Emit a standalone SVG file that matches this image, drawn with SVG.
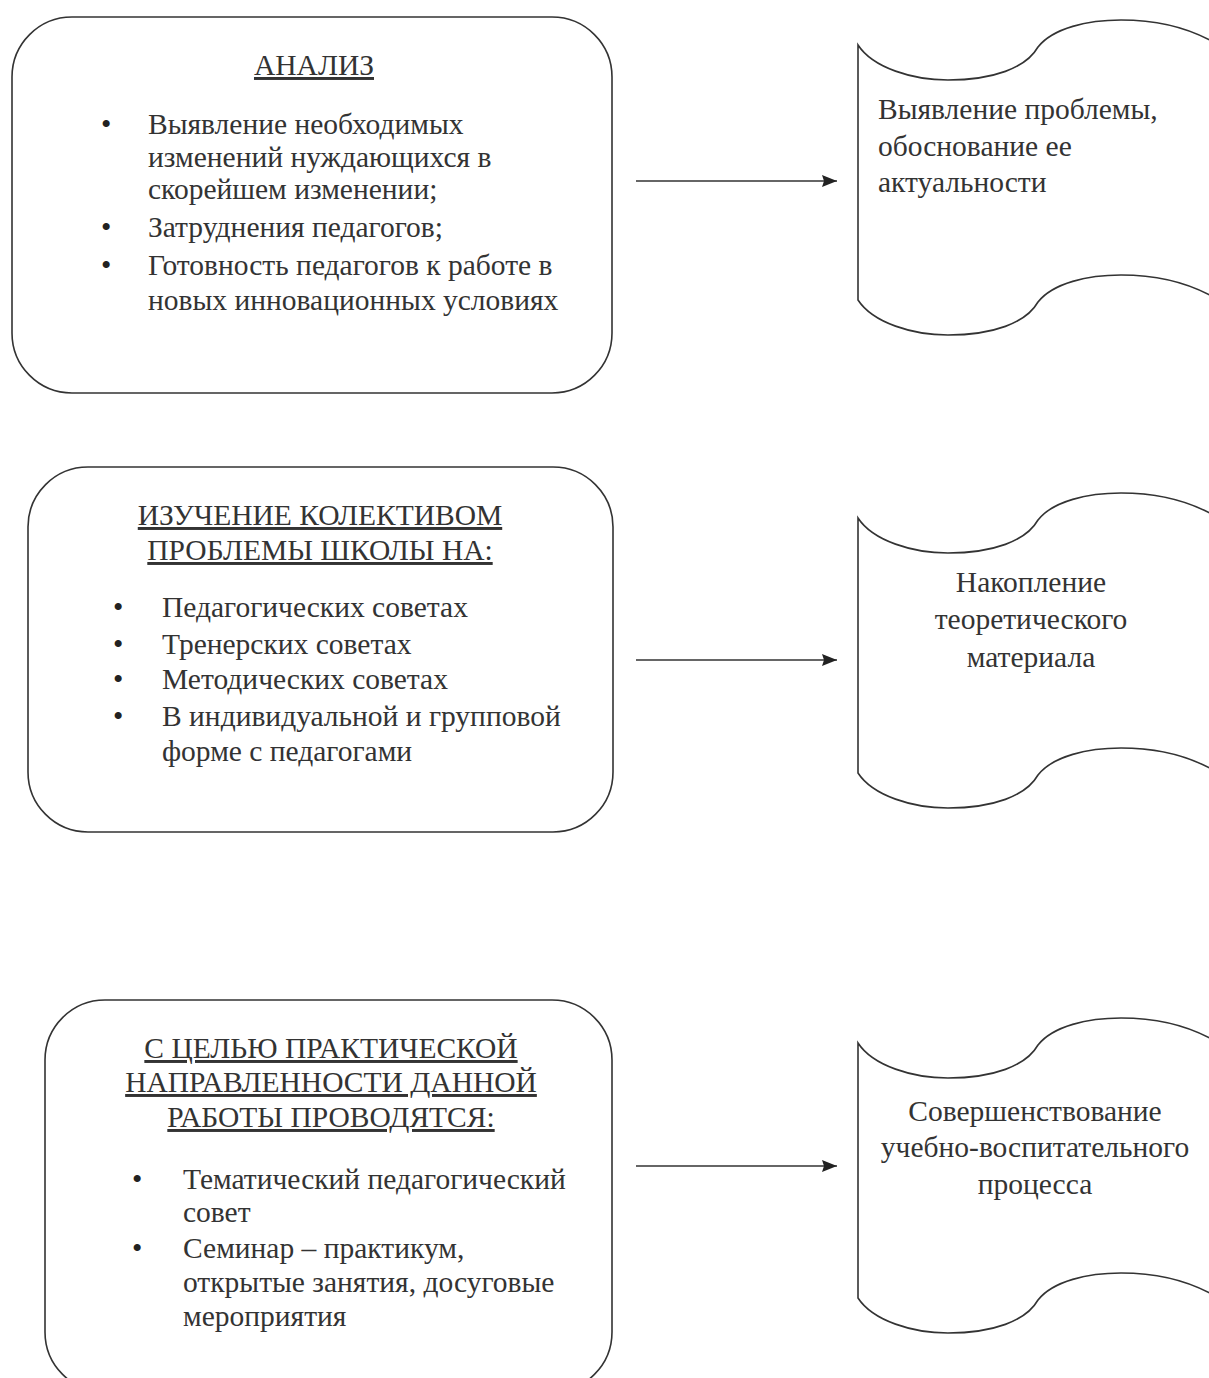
<svg xmlns="http://www.w3.org/2000/svg" width="1209" height="1378" viewBox="0 0 1209 1378">
<defs>
<style>
.box{fill:#fff;stroke:#333;stroke-width:1.6}
.wave{fill:#fff;stroke:#333;stroke-width:1.6}
.t{font-family:"Liberation Serif","Times New Roman",serif;font-size:29.5px;fill:#333}
.h{text-anchor:middle;text-decoration:underline}
.c{text-anchor:middle}
.b{fill:#222}
.conn{stroke:#333;stroke-width:1.6;fill:none}
</style>
<marker id="arr" viewBox="0 0 15 12" refX="15" refY="6" markerWidth="15" markerHeight="12" markerUnits="userSpaceOnUse" orient="auto">
<path d="M0,0 L15,6 L0,12 L2,6 z" fill="#222"/>
</marker>
<path id="wv" d="M0,25 C15,48 55,60 90,60 C135,60 168,48 180,27 C195,8 230,0 263,0 C300,0 335,8 365,28 L365,283 C335,263 300,255 263,255 C230,255 195,263 180,282 C168,303 135,315 90,315 C55,315 15,303 0,280 Z"/>
</defs>
<rect width="1209" height="1378" fill="#fff"/>

<g id="node-analysis">
<rect class="box" x="12" y="17" width="600" height="376" rx="60" ry="60"/>
<text class="t h" x="314" y="75">АНАЛИЗ</text>
<g class="t">
<text class="b" x="101" y="134">•</text>
<text x="148" y="134">Выявление необходимых</text>
<text x="148" y="167">изменений нуждающихся в</text>
<text x="148" y="199">скорейшем изменении;</text>
<text class="b" x="101" y="237">•</text>
<text x="148" y="237">Затруднения педагогов;</text>
<text class="b" x="101" y="275">•</text>
<text x="148" y="275">Готовность педагогов к работе в</text>
<text x="148" y="310">новых инновационных условиях</text>
</g>
</g>

<g id="node-study">
<rect class="box" x="28" y="467" width="585" height="365" rx="60" ry="60"/>
<text class="t h" x="320" y="525">ИЗУЧЕНИЕ КОЛЕКТИВОМ</text>
<text class="t h" x="320" y="560">ПРОБЛЕМЫ ШКОЛЫ НА:</text>
<g class="t">
<text class="b" x="113" y="617">•</text>
<text x="162" y="617">Педагогических советах</text>
<text class="b" x="113" y="654">•</text>
<text x="162" y="654">Тренерских советах</text>
<text class="b" x="113" y="689">•</text>
<text x="162" y="689">Методических советах</text>
<text class="b" x="113" y="726">•</text>
<text x="162" y="726">В индивидуальной и групповой</text>
<text x="162" y="761">форме с педагогами</text>
</g>
</g>

<g id="node-practice">
<rect class="box" x="45" y="1000" width="567" height="392" rx="60" ry="60"/>
<text class="t h" x="331" y="1058">С ЦЕЛЬЮ ПРАКТИЧЕСКОЙ</text>
<text class="t h" x="331" y="1092">НАПРАВЛЕННОСТИ ДАННОЙ</text>
<text class="t h" x="331" y="1127">РАБОТЫ ПРОВОДЯТСЯ:</text>
<g class="t">
<text class="b" x="132" y="1189">•</text>
<text x="183" y="1189">Тематический педагогический</text>
<text x="183" y="1222">совет</text>
<text class="b" x="132" y="1258">•</text>
<text x="183" y="1258">Семинар – практикум,</text>
<text x="183" y="1292">открытые занятия, досуговые</text>
<text x="183" y="1326">мероприятия</text>
</g>
</g>

<g id="node-problem">
<use href="#wv" class="wave" transform="translate(858,20)"/>
<g class="t">
<text x="878" y="119">Выявление проблемы,</text>
<text x="878" y="156">обоснование ее</text>
<text x="878" y="192">актуальности</text>
</g>
</g>

<g id="node-theory">
<use href="#wv" class="wave" transform="translate(858,493)"/>
<g class="t c">
<text x="1031" y="592">Накопление</text>
<text x="1031" y="629">теоретического</text>
<text x="1031" y="667">материала</text>
</g>
</g>

<g id="node-improve">
<use href="#wv" class="wave" transform="translate(858,1018)"/>
<g class="t c">
<text x="1035" y="1121">Совершенствование</text>
<text x="1035" y="1157">учебно-воспитательного</text>
<text x="1035" y="1194">процесса</text>
</g>
</g>

<g id="connectors">
<line class="conn" x1="636" y1="181" x2="837" y2="181" marker-end="url(#arr)"/>
<line class="conn" x1="636" y1="660" x2="837" y2="660" marker-end="url(#arr)"/>
<line class="conn" x1="636" y1="1166" x2="837" y2="1166" marker-end="url(#arr)"/>
</g>
</svg>
